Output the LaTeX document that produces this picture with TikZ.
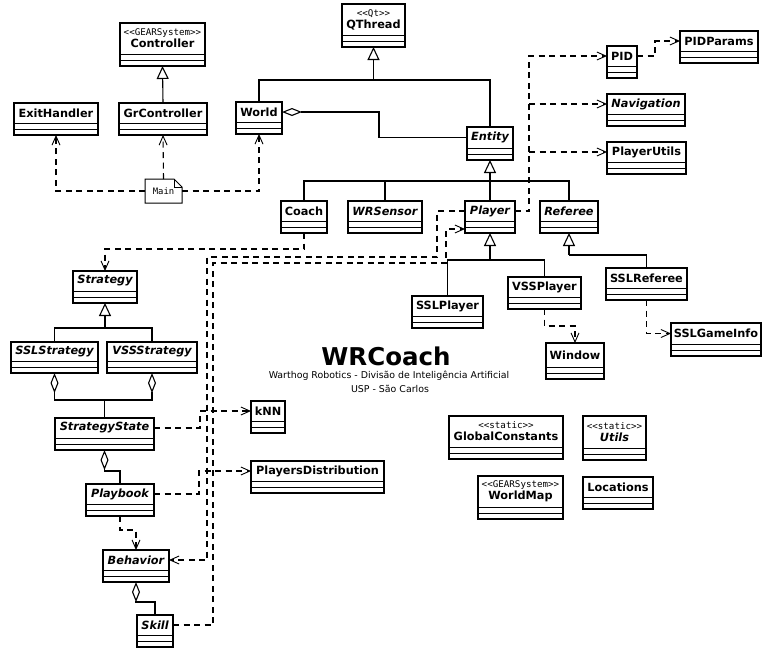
\documentclass[tikz,border=0pt]{standalone}
\usepackage{fontspec}
\setmainfont{DejaVu Sans}
\newfontfamily\stereofont{DejaVu Sans Mono}
\usetikzlibrary{arrows.meta,calc}
\newcommand\stereo[1]{{\stereofont\mdseries\upshape\fontsize{9.2}{10}\selectfont <{}<#1>{}>}}
\tikzset{
  clsbox/.style={draw, line width=1.2pt, inner sep=0pt, outer sep=0pt},
  sepline/.style={line width=1pt},
  clsname/.style={font=\fontsize{11.3}{12}\selectfont\bfseries, inner sep=0pt, align=center},
  solidline/.style={line width=1.1pt},
  inh/.style={solidline, -{Triangle[open, length=13pt, width=12pt]}},
  dep/.style={line width=1.1pt, dash pattern=on 6pt off 4.5pt, -{Straight Barb[length=9pt, width=8pt, line width=0.9pt]}},
  agg/.style={solidline, {Diamond[open, length=20pt, width=8pt]}-},
  notebox/.style={inner sep=0pt, outer sep=0pt, minimum width=37pt, minimum height=24pt, font=\stereofont\fontsize{8.9}{10}\selectfont},
  subtitle/.style={font=\fontsize{9.4}{11}\selectfont}
}
\newcommand\umlbox[6]{%
  \node[clsbox, minimum width={(#4)-(#2)}, minimum height={(#5)-(#3)}, anchor=north west] (#1) at (#2,#3) {};
  \draw[sepline] ([yshift=12pt]#1.south west) -- ([yshift=12pt]#1.south east)
                 ([yshift=6pt]#1.south west) -- ([yshift=6pt]#1.south east);
  \node[clsname] (#1-t) at ({(#2+#4)/2},{(#3+#5-12)/2}) {#6};
}
\begin{document}
\begin{tikzpicture}[x=1pt,y=-1pt]
\fill[white] (0,0) rectangle (767,656);
\useasboundingbox (0,0) rectangle (767,656);

% classes
\umlbox{Controller}{120}{23}{205}{66}{\stereo{GEARSystem}\\Controller}
\umlbox{ExitHandler}{14}{103}{98}{135}{ExitHandler}
\umlbox{GrController}{119}{103}{207}{135}{GrController}
\umlbox{World}{236}{102}{282}{134}{World}
\umlbox{QThread}{342}{4}{405}{47}{\stereo{Qt}\\QThread}
\umlbox{Entity}{467}{127}{513}{160}{\itshape Entity}
\umlbox{Coach}{281}{201}{327}{233}{Coach}
\umlbox{WRSensor}{348}{201}{422}{233}{\itshape WRSensor}
\umlbox{Player}{465}{201}{515}{233}{\itshape Player}
\umlbox{Referee}{540}{201}{598}{233}{\itshape Referee}
\umlbox{SSLPlayer}{412}{296}{483}{328}{SSLPlayer}
\umlbox{VSSPlayer}{508}{277}{581}{309}{VSSPlayer}
\umlbox{SSLReferee}{606}{268}{687}{300}{SSLReferee}
\umlbox{SSLGameInfo}{671}{323}{761}{356}{SSLGameInfo}
\umlbox{Window}{546}{343}{604}{379}{Window}
\umlbox{PID}{607}{46}{637}{78}{PID}
\umlbox{PIDParams}{680}{31}{758}{63}{PIDParams}
\umlbox{Navigation}{607}{94}{685}{126}{\itshape Navigation}
\umlbox{PlayerUtils}{607}{142}{686}{174}{PlayerUtils}
\umlbox{Strategy}{73}{271}{137}{303}{\itshape Strategy}
\umlbox{SSLStrategy}{11}{342}{98}{373}{\itshape SSLStrategy}
\umlbox{VSSStrategy}{107}{342}{197}{373}{\itshape VSSStrategy}
\umlbox{StrategyState}{55}{418}{154}{450}{\itshape StrategyState}
\umlbox{Playbook}{86}{484}{154}{516}{\itshape Playbook}
\umlbox{Behavior}{103}{550}{169}{582}{\itshape Behavior}
\umlbox{Skill}{137}{615}{173}{647}{\itshape Skill}
\umlbox{kNN}{251}{401}{285}{433}{kNN}
\umlbox{PD}{251}{461}{384}{493}{PlayersDistribution}
\umlbox{GlobalConstants}{449}{416}{563}{459}{\stereo{static}\\GlobalConstants}
\umlbox{Utils}{583}{416}{646}{460}{\stereo{static}\\\itshape Utils}
\umlbox{WorldMap}{478}{476}{563}{519}{\stereo{GEARSystem}\\WorldMap}
\umlbox{Locations}{583}{477}{653}{509}{Locations}

% note
\node[notebox] (Main) at (163.5,191) {Main};
\draw[line width=1pt] (Main.north west) -- ([xshift=-8pt]Main.north east) -- ([yshift=-8pt]Main.north east) -- (Main.south east) -- (Main.south west) -- cycle;
\draw[line width=0.8pt] ([xshift=-8pt]Main.north east) |- ([yshift=-8pt]Main.north east);

% title
\node[font=\fontsize{24.5}{30}\selectfont\bfseries] (title) at (386,356) {WRCoach};
\node[subtitle] (sub1) at (389,376) {Warthog Robotics - Divisão de Inteligência Artificial};
\node[subtitle] (sub2) at (390,389) {USP - São Carlos};

% inheritance
\draw[inh] (GrController.north) -- (Controller.south);
\coordinate (qj) at ([yshift=-33pt]QThread.south);
\draw[solidline] (World.north) |- (qj) -| (Entity.north);
\draw[inh] (qj) -- (QThread.south);
\coordinate (ej) at ([yshift=-21pt]Entity.south);
\draw[solidline] (Coach.north) |- (ej) -| (Referee.north);
\draw[solidline] (WRSensor.north) -- (WRSensor.north |- ej);
\draw[solidline] (Player.north) -- (ej);
\draw[inh] (ej) -- (Entity.south);
\coordinate (pjn) at ([yshift=-27pt]Player.south);
\draw[solidline] (SSLPlayer.north) |- (pjn) -| (VSSPlayer.north);
\draw[inh] (pjn) -- (Player.south);
\coordinate (rj) at ([yshift=-22pt]Referee.south);
\draw[solidline] (SSLReferee.north) |- (rj);
\draw[inh] (rj) -- (Referee.south);
\coordinate (sj) at ([yshift=-25pt]Strategy.south);
\draw[solidline] (SSLStrategy.north) |- (sj) -| (VSSStrategy.north);
\draw[inh] (sj) -- (Strategy.south);

% aggregation
\draw[agg] (World.east |- World-t) -- ++(97,0) |- (Entity.west |- Entity-t);
\coordinate (ssj) at ([yshift=18pt]StrategyState.north);
\draw[agg] (SSLStrategy.south) |- (ssj);
\draw[agg] (VSSStrategy.south) |- (ssj);
\draw[solidline] (ssj) -- (StrategyState.north);
\draw[agg] (StrategyState.south) |- ([yshift=13pt]Playbook.north) -- (Playbook.north);
\draw[agg] (Behavior.south) |- ([yshift=13pt]Skill.north) -- (Skill.north);

% dependencies
\draw[dep] (Main.west) -| (ExitHandler.south);
\draw[dep] (Main.north) -- (GrController.south);
\draw[dep] (Main.east) -| (World.south);
\draw[dep] (Coach.south) -- ++(0,16) -| (Strategy.north);
\draw[dep] (VSSPlayer.south) -- ++(0,17) -| (Window.north);
\draw[dep] (SSLReferee.south) |- (SSLGameInfo.west |- SSLGameInfo-t);
\draw[dep] (Playbook.south) -- ++(0,14) -| (Behavior.north);
\draw[dep] (StrategyState.east |- StrategyState-t) -- ++(46,0) |- (kNN.west |- kNN-t);
\draw[dep] (Playbook.east |- Playbook-t) -- ++(45,0) |- (PD.west |- PD-t);
\draw[dep] (PID.east |- PID-t) -- ++(18,0) |- (PIDParams.west |- PIDParams-t);
\coordinate (pj) at (529,130);
\draw[dep] (Player.east |- Player-t) -| (pj) |- (PID.west |- PID-t);
\draw[dep] (pj |- Navigation-t) -- (Navigation.west |- Navigation-t);
\draw[dep] (pj |- PlayerUtils-t) -- (PlayerUtils.west |- PlayerUtils-t);
\coordinate (pbA) at (437,257);
\coordinate (pbB) at (207,400);
\draw[dep] (Player.west |- Player-t) -| (pbA) -| (pbB) |- (Behavior.east |- Behavior-t);
\coordinate (spA) at (213,263);
\coordinate (spB) at (446,245);
\draw[dep] (Skill.east |- Skill-t) -| (spA) -| (spB) |- ([yshift=4pt]Player.south west);
\end{tikzpicture}
\end{document}
